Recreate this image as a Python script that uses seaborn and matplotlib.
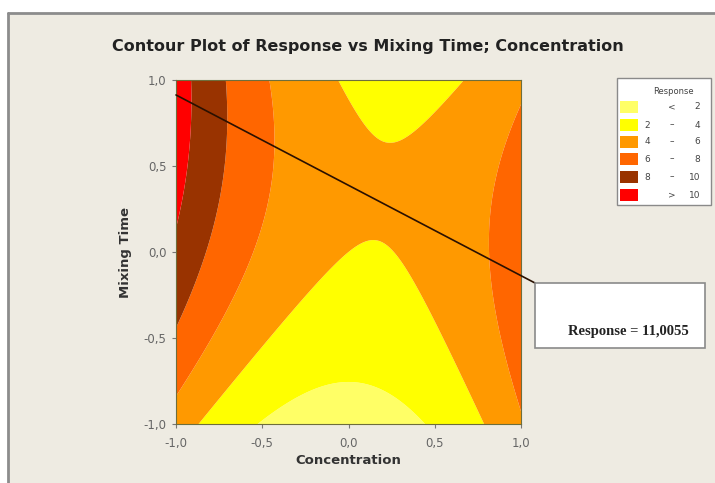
import numpy as np
import matplotlib
matplotlib.use("Agg")
import matplotlib.pyplot as plt
import seaborn as sns
from matplotlib.patches import Rectangle

# Quadratic response surface (coded units) read off the contour bands
# Response = b0 + b1*C + b2*T + b11*C^2 + b22*T^2 + b12*C*T
coef_terms = ["const", "conc", "time", "conc^2", "time^2", "conc*time"]
coef_values = [4.00, -1.17, 1.43, 4.45, -1.61, -1.54]

# contour bands and legend
levels = [-5, 2, 4, 6, 8, 10, 25]
band_colors = ["#FFFF66", "#FFFF00", "#FF9900", "#FF6600", "#993300", "#FF0000"]
legend_low = ["", "2", "4", "6", "8", ""]
legend_mid = ["<", "–", "–", "–", "–", ">"]
legend_high = ["2", "4", "6", "8", "10", "10"]

tick_values = [-1.0, -0.5, 0.0, 0.5, 1.0]
tick_labels = ["-1,0", "-0,5", "0,0", "0,5", "1,0"]

flag_point = (-1.0, 0.913)
flag_text = "Response = 11,0055"

W, H = 715, 483

sns.set_style("ticks")
plt.rcParams["font.family"] = ["DejaVu Sans"]

fig = plt.figure(figsize=(W / 100, H / 100), dpi=100)
fig.patch.set_facecolor("white")

# beige graph window with grey frame on top/left
fig.patches.append(Rectangle((8 / W, 0), 1, (H - 13) / H, transform=fig.transFigure,
                             facecolor="#EEEBE2", edgecolor="none", zorder=-10))
fig.add_artist(plt.Line2D([8 / W, 1], [(H - 13) / H] * 2, transform=fig.transFigure,
                          color="#8c8c8c", lw=2))
fig.add_artist(plt.Line2D([8 / W] * 2, [0, (H - 13) / H], transform=fig.transFigure,
                          color="#8c8c8c", lw=2))

ax = fig.add_axes([176 / W, (H - 424) / H, 345 / W, 344 / H])

conc = np.linspace(-1, 1, 401)
mtime = np.linspace(-1, 1, 401)
C, T = np.meshgrid(conc, mtime)
b0, b1, b2, b11, b22, b12 = coef_values
Z = b0 + b1 * C + b2 * T + b11 * C ** 2 + b22 * T ** 2 + b12 * C * T

ax.contourf(C, T, Z, levels=levels, colors=band_colors, antialiased=True)

ax.set_xlim(-1, 1)
ax.set_ylim(-1, 1)
ax.set_xticks(tick_values)
ax.set_xticklabels(tick_labels)
ax.set_yticks(tick_values)
ax.set_yticklabels(tick_labels)
ax.tick_params(direction="out", length=3, width=0.8, color="#777777",
               labelcolor="#666666", labelsize=8.5)
ax.tick_params(axis="x", pad=6)
ax.tick_params(axis="y", pad=4)
for s in ax.spines.values():
    s.set_color("#6e6e3c")
    s.set_linewidth(0.8)

ax.set_xlabel("Concentration", fontsize=9.5, fontweight="bold", color="#333333", labelpad=3)
ax.set_ylabel("Mixing Time", fontsize=9.5, fontweight="bold", color="#333333", labelpad=8)

fig.text(368 / W, 1 - 47 / H, "Contour Plot of Response vs Mixing Time; Concentration",
         ha="center", va="center", fontsize=11.5, fontweight="bold", color="#222222")

# flag line to the response box
ax.annotate("", xy=flag_point, xycoords="data", xytext=(535, H - 283),
            textcoords="figure pixels",
            arrowprops=dict(arrowstyle="-", color="#2a1000", lw=1.2,
                            shrinkA=0, shrinkB=0), annotation_clip=False)
fig.patches.append(Rectangle((535 / W, (H - 348) / H), 170 / W, 65 / H,
                             transform=fig.transFigure, facecolor="white",
                             edgecolor="#8a8a8a", lw=1.2, zorder=5))
fig.text(628 / W, 1 - 332 / H, flag_text, ha="center", va="center",
         family="Liberation Serif", fontweight="bold", fontsize=10.5,
         color="#222222", zorder=6)

# legend
fig.patches.append(Rectangle((617 / W, (H - 205) / H), 94 / W, 127 / H,
                             transform=fig.transFigure, facecolor="white",
                             edgecolor="#8a8a8a", lw=1.0, zorder=5))
fig.text(673 / W, 1 - 92 / H, "Response", ha="center", va="center",
         fontsize=6, color="#444444", zorder=6)
row_y = [107, 125, 142, 159, 177, 195]
for yy, col, lo, mid, hi in zip(row_y, band_colors, legend_low, legend_mid, legend_high):
    fig.patches.append(Rectangle((620 / W, (H - yy - 6) / H), 18 / W, 12 / H,
                                 transform=fig.transFigure, facecolor=col,
                                 edgecolor="none", zorder=6))
    fig.text(647 / W, 1 - yy / H, lo, ha="center", va="center", fontsize=6.5,
             color="#444444", zorder=6)
    fig.text(672 / W, 1 - yy / H, mid, ha="center", va="center", fontsize=6.5,
             color="#444444", zorder=6)
    fig.text(700 / W, 1 - yy / H, hi, ha="right", va="center", fontsize=6.5,
             color="#444444", zorder=6)

fig.savefig("out.png", dpi=100)
